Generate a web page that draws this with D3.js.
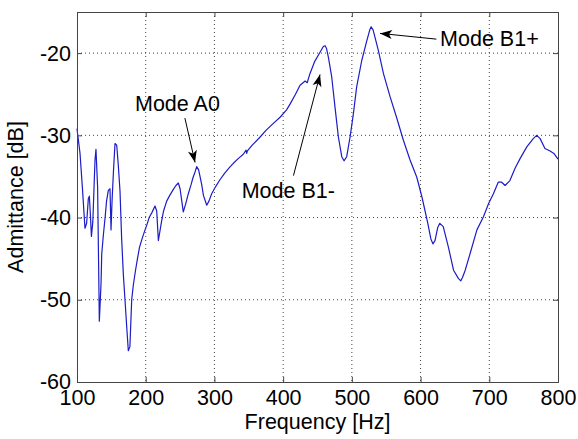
<!DOCTYPE html>
<html>
<head>
<meta charset="utf-8">
<script src="https://cdn.jsdelivr.net/npm/d3@7"></script>
<style>
  html, body { margin: 0; padding: 0; background: #fff; }
  text { font-family: "Liberation Sans", Arial, sans-serif; }
</style>
</head>
<body>
<svg id="chart" width="578" height="439"></svg>
<script>
// ---- data ----
const freq = [100,104.4,107.8,111.6,114,116.5,118,119.4,121,123,124.5,126.2,127.6,130,132.5,135,136,138.5,141,143,145.6,148,149.5,151,153,155.3,157.8,160,162.6,165,167.5,170,172.5,174.7,177,179.6,182,185,188,191,195,199,202,205,209,213.5,216,218.4,220,223,226,230.5,235,240,244,247.5,250,252.5,254.7,258,262,266,269,272,274.2,277,279,281.5,284,288.8,292,296,302,308,315,322,327.5,335,342,346,347,348,355,366.5,375,385,395.5,405,410,418,424.6,429,432,435,439,446,453.7,458.5,461,463,465.8,470.7,475.5,480.4,485.3,488.6,492.5,497.4,502.2,507,514.4,521.7,526,528,531,538.6,546,555.6,565,575,584.7,594.5,602,610,615,618,621,625,628,633,640.5,648,655,658.5,661,665,672,682,691.5,699,706,713,718,723,730,737.5,745,754.6,764,769,774,781,788.5,794,800];
const admittance = [-29.2,-32.2,-36.3,-41.3,-40.7,-37.7,-37.4,-39.5,-42.3,-40.5,-37,-33.0,-31.7,-36.3,-52.6,-48.0,-44.4,-42,-39.9,-38,-36.7,-36.5,-41.5,-38,-34.5,-31.0,-31.2,-33.5,-36.8,-42.6,-47,-50.2,-53.5,-56.2,-55.7,-50.0,-48.2,-46.5,-45.0,-43.6,-42.5,-41.5,-40.8,-40.0,-39.4,-38.6,-39.2,-42.8,-42.0,-40.5,-39.2,-38.0,-37.3,-36.6,-36.1,-35.8,-36.5,-38.0,-39.3,-38.4,-37.1,-36.0,-35.1,-34.4,-33.8,-34.2,-35.0,-36.0,-37.3,-38.5,-38.0,-37.1,-36.2,-35.4,-34.6,-33.9,-33.4,-32.8,-32.3,-31.8,-32.2,-31.9,-31.2,-30.2,-29.4,-28.6,-27.8,-26.9,-26.2,-25.0,-23.9,-23.6,-23.4,-23.6,-22.5,-21.0,-19.9,-19.2,-19.1,-19.4,-20.5,-22.9,-26.6,-30.2,-32.6,-33.1,-32.6,-30.2,-27.4,-24.1,-20.9,-18.5,-17.2,-16.8,-17.2,-19.7,-22.5,-25.3,-27.8,-30.6,-33.0,-35.1,-37.5,-40.5,-42.6,-43.2,-42.8,-41.2,-40.7,-41.1,-43.6,-46.4,-47.4,-47.7,-47.3,-46.4,-44.4,-41.5,-39.9,-38.3,-37.1,-35.7,-35.7,-36.1,-35.5,-34.0,-32.8,-31.4,-30.4,-30.0,-30.4,-31.6,-31.9,-32.2,-32.9];
const xTicks = [100,200,300,400,500,600,700,800];
const yTicks = [-60,-50,-40,-30,-20];
const xDomain = [100, 800];
const yDomain = [-60, -15];
const xTitle = "Frequency [Hz]";
const yTitle = "Admittance [dB]";
// annotations: label, text anchor (freq, dB), arrow tail (freq, dB), arrow tip (freq, dB)
const annLabels = ["Mode A0", "Mode B1-", "Mode B1+"];
const annText  = [[184.4, -27.1], [339.7, -37.6], [628.4, -19.1]];
const annTail  = [[257, -27.9], [415, -34.9], [623, -18.3]];
const annTip   = [[271.8, -33.3], [453.7, -22.6], [541, -17.6]];

// ---- layout ----
const svg = d3.select("#chart");
const L = 77, R = 558, T = 12, B = 382;
const x = d3.scaleLinear().domain(xDomain).range([L, R]);
const y = d3.scaleLinear().domain(yDomain).range([B, T]);
const FS = 21.5;

svg.append("rect").attr("width", 578).attr("height", 439).attr("fill", "#fff");

// grid
const grid = svg.append("g");
xTicks.filter(t => t > xDomain[0] && t < xDomain[1]).forEach(t => {
  grid.append("line").attr("x1", x(t)).attr("x2", x(t)).attr("y1", T).attr("y2", B)
    .attr("stroke", "#444").attr("stroke-width", 1).attr("stroke-dasharray", "1,3");
});
yTicks.filter(t => t > yDomain[0] && t < yDomain[1]).forEach(t => {
  grid.append("line").attr("x1", L).attr("x2", R).attr("y1", y(t)).attr("y2", y(t))
    .attr("stroke", "#444").attr("stroke-width", 1).attr("stroke-dasharray", "1,3");
});

// data line
const pts = freq.map((f, i) => [f, admittance[i]]);
svg.append("path").datum(pts)
  .attr("d", d3.line().x(d => x(d[0])).y(d => y(d[1])))
  .attr("fill", "none").attr("stroke", "#1c1cc8").attr("stroke-width", 1.2)
  .attr("stroke-linejoin", "round");

// axes with inward ticks
const axB = d3.axisBottom(x).tickValues(xTicks).tickSize(-5).tickPadding(8).tickFormat(d3.format("d"));
const axT = d3.axisTop(x).tickValues(xTicks).tickSize(-5).tickFormat("");
const axLft = d3.axisLeft(y).tickValues(yTicks).tickSize(-5).tickPadding(6).tickFormat(d => d === 0 ? "0" : "-" + Math.abs(d));
const axRt = d3.axisRight(y).tickValues(yTicks).tickSize(-5).tickFormat("");

function style(g) {
  g.select(".domain").attr("stroke", "#444");
  g.selectAll(".tick line").attr("stroke", "#444");
  g.selectAll(".tick text").attr("fill", "#000").style("font-size", FS + "px")
    .style("font-family", '"Liberation Sans", Arial, sans-serif');
}
svg.append("g").attr("transform", `translate(0,${B})`).call(axB).call(style)
  .selectAll(".tick text").attr("dy", "0.72em");
svg.append("g").attr("transform", `translate(0,${T})`).call(axT).call(style);
svg.append("g").attr("transform", `translate(${L},0)`).call(axLft).call(style);
svg.append("g").attr("transform", `translate(${R},0)`).call(axRt).call(style);
svg.selectAll(".domain").attr("stroke-width", 1);

// titles
svg.append("text").attr("x", (L + R) / 2).attr("y", 429).attr("text-anchor", "middle")
  .style("font-size", FS + "px").text(xTitle);
svg.append("text").attr("transform", `translate(23,${(T + B) / 2}) rotate(-90)`)
  .attr("text-anchor", "middle").style("font-size", FS + "px").text(yTitle);

// arrow marker
const defs = svg.append("defs");
defs.append("marker").attr("id", "ah").attr("viewBox", "-13 -6 14 12")
  .attr("refX", 0).attr("refY", 0).attr("markerWidth", 14).attr("markerHeight", 12)
  .attr("markerUnits", "userSpaceOnUse").attr("orient", "auto")
  .append("path").attr("d", "M0,0 L-12,-4.5 L-9,0 L-12,4.5 Z").attr("fill", "#000");

// annotations
annLabels.forEach((lab, i) => {
  svg.append("line")
    .attr("x1", x(annTail[i][0])).attr("y1", y(annTail[i][1]))
    .attr("x2", x(annTip[i][0])).attr("y2", y(annTip[i][1]))
    .attr("stroke", "#000").attr("stroke-width", 1).attr("marker-end", "url(#ah)");
  svg.append("text").attr("x", x(annText[i][0])).attr("y", y(annText[i][1]))
    .style("font-size", FS + "px").attr("fill", "#000").text(lab);
});
</script>
</body>
</html>
